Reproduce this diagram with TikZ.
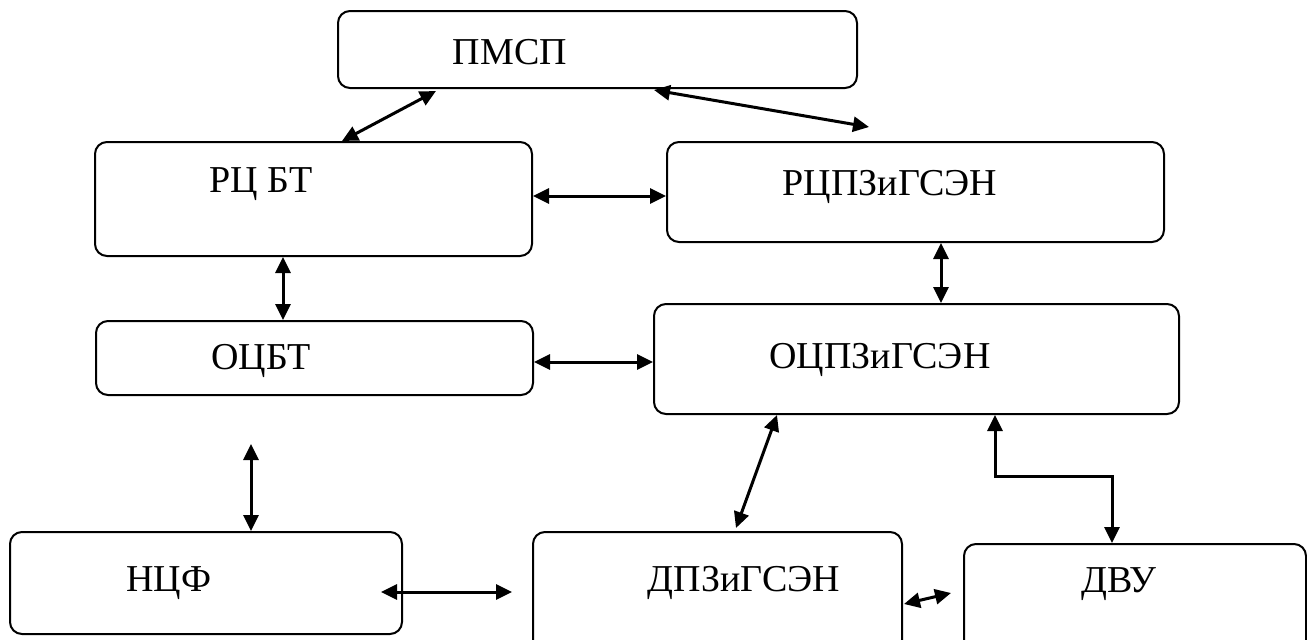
\documentclass[tikz,border=0pt]{standalone}
\usepackage{fontspec}
\setmainfont{Liberation Serif}
\usetikzlibrary{arrows.meta, calc}

\begin{document}
\begin{tikzpicture}[
    x=1pt, y=-1pt,
    box/.style={rectangle, rounded corners=12pt, draw=black, line width=2pt, inner sep=0pt},
    lbl/.style={anchor=base, inner sep=0pt, font=\fontsize{38}{44}\selectfont},
    arrow/.style={{Triangle[length=16pt, width=15pt]}-{Triangle[length=16pt, width=15pt]}, line width=3pt},
]
\useasboundingbox (0,0) rectangle (1307,640);
\clip (0,0) rectangle (1307,640);

% boxes
\node[box, minimum width=519pt, minimum height=77pt] (pmsp) at (597.5,49.5) {};
\node[box, minimum width=437pt, minimum height=114pt] (rcbt) at (313.5,199) {};
\node[box, minimum width=497pt, minimum height=100pt] (rcpz) at (915.5,192) {};
\node[box, minimum width=437pt, minimum height=74pt] (ocbt) at (314.5,358) {};
\node[box, minimum width=525pt, minimum height=110pt] (ocpz) at (916.5,359) {};
\node[box, minimum width=392pt, minimum height=102pt] (ncf) at (206,583) {};
\node[box, minimum width=369pt, minimum height=120pt] (dpz) at (717.5,592) {};
\node[box, minimum width=342pt, minimum height=112pt] (dvu) at (1135,600) {};

% labels
\node[lbl] (pmsp-t) at (510,64) {ПМСП};
\node[lbl] (rcbt-t) at (261,192) {РЦ БТ};
\node[lbl] (rcpz-t) at (890,195) {РЦПЗиГСЭН};
\node[lbl] (ocbt-t) at (261,369) {ОЦБТ};
\node[lbl] (ocpz-t) at (880,368) {ОЦПЗиГСЭН};
\node[lbl] (ncf-t) at (169,591) {НЦФ};
\node[lbl] (dpz-t) at (744,591) {ДПЗиГСЭН};
\node[lbl] (dvu-t) at (1119,592) {ДВУ};

% links
\draw[arrow] ($(rcbt.north west)+(248,0)$) -- ($(pmsp.south west)+(99,2)$);
\draw[arrow] ($(pmsp.south west)+(317,1)$) -- ($(rcpz.north west)+(203,-14)$);
\draw[arrow] ($(rcbt.north east)+(0,55)$) -- ($(rcpz.north west)+(0,55)$);
\draw[arrow] ($(rcbt.south west)+(189,0)$) -- ($(ocbt.north west)+(188,0)$);
\draw[arrow] ($(rcpz.south west)+(275,0)$) -- ($(ocpz.north west)+(288,0)$);
\draw[arrow] ($(ocbt.north east)+(0,42)$) -- ($(ocpz.north west)+(0,59)$);
\draw[arrow] ($(ocpz.south west)+(124,0)$) -- ($(dpz.north west)+(204,-3)$);
\draw[arrow] ($(ocpz.south west)+(342,0)$) -- ++(0,61) -| ($(dvu.north west)+(149,0)$);
\draw[arrow] ($(ncf.north west)+(242,-87)$) -- ($(ncf.north west)+(242,0)$);
\draw[arrow] ($(ncf.north east)+(-22,61)$) -- ($(dpz.north west)+(-20,61)$);
\draw[arrow] ($(dpz.north east)+(1,73)$) -- ($(dvu.north west)+(-12,50)$);
\end{tikzpicture}
\end{document}
